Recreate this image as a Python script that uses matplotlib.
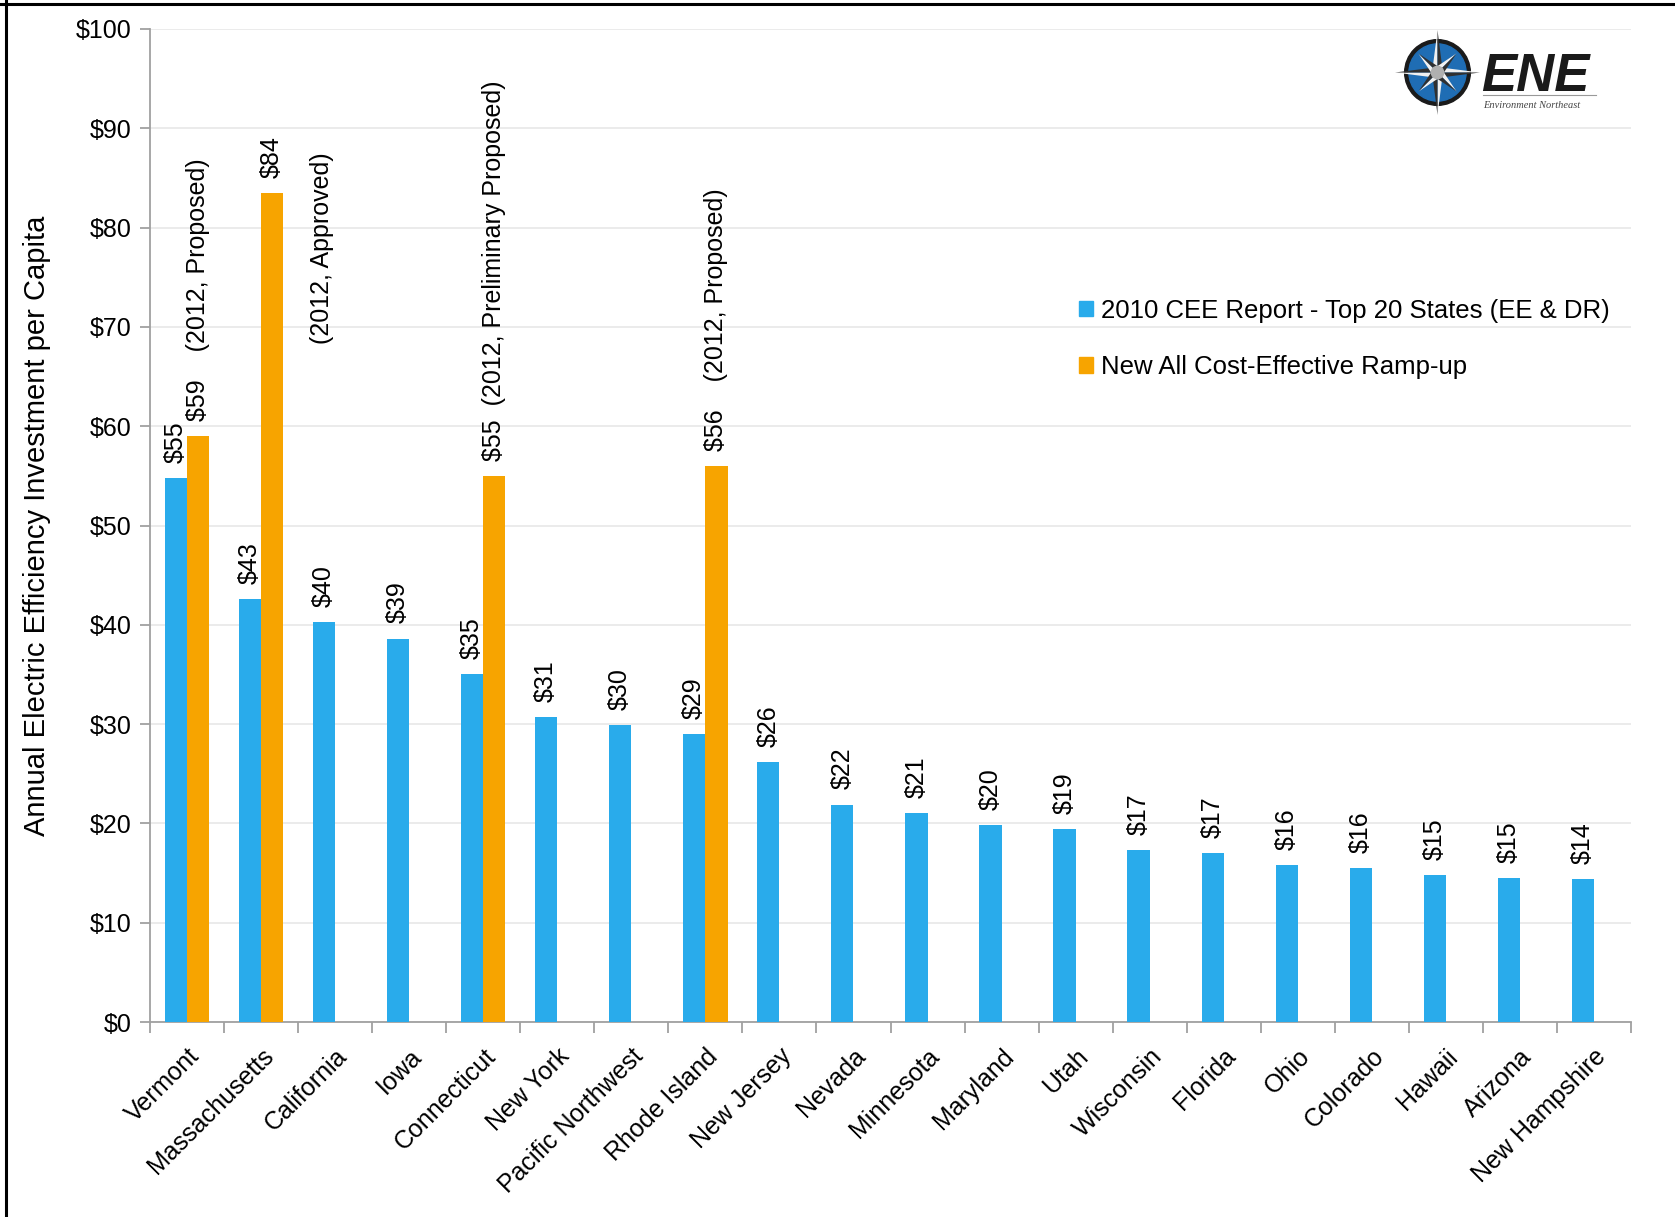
import numpy as np
import matplotlib
matplotlib.use('Agg')
import matplotlib.pyplot as plt
import matplotlib.patches as mpatches
from matplotlib.lines import Line2D

plt.rcParams['font.family'] = ['Liberation Sans', 'DejaVu Sans']

states = ['Vermont', 'Massachusetts', 'California', 'Iowa', 'Connecticut', 'New York',
          'Pacific Northwest', 'Rhode Island', 'New Jersey', 'Nevada', 'Minnesota',
          'Maryland', 'Utah', 'Wisconsin', 'Florida', 'Ohio', 'Colorado', 'Hawaii',
          'Arizona', 'New Hampshire']
cee_2010 = [54.8, 42.6, 40.3, 38.6, 35.0, 30.7, 29.9, 29.0, 26.2, 21.9, 21.0,
            19.8, 19.4, 17.3, 17.0, 15.8, 15.5, 14.8, 14.5, 14.4]
# new ramp-up only exists for a few states
ramp_up = [59, 83.5, None, None, 55, None, None, 56, None, None, None,
           None, None, None, None, None, None, None, None, None]
ramp_notes = ['(2012, Proposed)', None, None, None, '(2012, Preliminary Proposed)', None,
              None, '(2012, Proposed)', None, None, None, None, None, None, None,
              None, None, None, None, None]
california_note = '(2012, Approved)'

legend_labels = ['2010 CEE Report - Top 20 States (EE & DR)', 'New All Cost-Effective Ramp-up']
blue = '#29ABEB'
orange = '#F7A400'
fs = 18


def money(v):
    return f'${int(v + 0.5)}'


fig = plt.figure(figsize=(16.75, 12.17), dpi=100)
ax = fig.add_axes([150/1675, 1-1022/1217, (1631-150)/1675, (1022-29)/1217])

x = np.arange(len(states))
w = 0.3
ax.bar(x - w/2, cee_2010, w, color=blue, zorder=3)
for i, v in enumerate(cee_2010):
    ax.annotate(money(v), (x[i] - w/2, v), xytext=(0, 11), textcoords='offset points',
                rotation=90, ha='center', va='bottom', fontsize=fs)

ramp_x = [x[i] + w/2 for i, v in enumerate(ramp_up) if v is not None]
ramp_v = [v for v in ramp_up if v is not None]
ax.bar(ramp_x, ramp_v, w, color=orange, zorder=3)
for i, v in enumerate(ramp_up):
    if v is None:
        continue
    lab = money(v)
    if ramp_notes[i]:
        gap = '  ' if 'Preliminary' in ramp_notes[i] else '    '
        lab += gap + ramp_notes[i]
    ax.annotate(lab, (x[i] + w/2, v), xytext=(0, 11), textcoords='offset points',
                rotation=90, ha='center', va='bottom', fontsize=fs)

ax.text(x[2] - 0.18, 68.3, california_note, rotation=90, ha='center', va='bottom', fontsize=fs)

ax.set_xlim(-0.5, len(states) - 0.5)
ax.set_ylim(0, 100)
ax.set_yticks(np.arange(0, 101, 10))
ax.set_yticklabels([f'${t}' for t in range(0, 101, 10)], fontsize=fs)
ax.yaxis.grid(True, color='#E8E8E8', linewidth=1.2, zorder=0)
ax.set_axisbelow(True)

ax.set_xticks(x)
ax.set_xticklabels(states, rotation=45, ha='right', va='top', rotation_mode='anchor', fontsize=fs)
ax.set_xticks(np.arange(-0.5, len(states), 1), minor=True)
ax.tick_params(axis='x', which='major', length=0, pad=16)
ax.tick_params(axis='x', which='minor', length=8, color='#A0A0A0', width=1.3)
ax.tick_params(axis='y', length=7, color='#A0A0A0', width=1.3, pad=6)

for s in ['top', 'right']:
    ax.spines[s].set_visible(False)
for s in ['left', 'bottom']:
    ax.spines[s].set_color('#A0A0A0')
    ax.spines[s].set_linewidth(1.3)

ax.set_ylabel('Annual Electric Efficiency Investment per Capita', fontsize=21, labelpad=18)

handles = [mpatches.Patch(color=blue, label=legend_labels[0]),
           mpatches.Patch(color=orange, label=legend_labels[1])]
fig.legend(handles=handles, loc='upper left', bbox_to_anchor=(1066/1675, 1-286/1217),
           frameon=False, fontsize=18.5, handlelength=0.55, handleheight=0.55,
           handletextpad=0.3, labelspacing=1.25, borderpad=0)

# ENE logo
lax = fig.add_axes([1395/1675, 1-115/1217, 85/1675, 85/1217])
lax.set_xlim(-1.1, 1.1)
lax.set_ylim(-1.1, 1.1)
lax.set_aspect('equal')
lax.axis('off')
lax.add_patch(mpatches.Circle((0, 0), 0.85, color='#1A1A1A'))
lax.add_patch(mpatches.Circle((0, 0), 0.74, color='#1F6DB4'))
for ang, ln in [(0, 1.1), (90, 1.1), (180, 1.1), (270, 1.1), (45, 0.7), (135, 0.7), (225, 0.7), (315, 0.7)]:
    a = np.deg2rad(ang)
    tip = (ln*np.cos(a), ln*np.sin(a))
    l1 = (0.14*np.cos(a + np.pi/2), 0.14*np.sin(a + np.pi/2))
    l2 = (0.14*np.cos(a - np.pi/2), 0.14*np.sin(a - np.pi/2))
    lax.add_patch(mpatches.Polygon([l1, tip, (0, 0)], color='#F0F0F0', lw=0))
    lax.add_patch(mpatches.Polygon([l2, tip, (0, 0)], color='#303030', lw=0))
lax.add_patch(mpatches.Circle((0, 0), 0.16, color='#B0B0B0'))
fig.text(1481/1675, 1-91/1217, 'ENE', fontsize=38, fontweight='bold', style='italic',
         color='#1A1A1A', ha='left', va='baseline')
fig.add_artist(Line2D([1483/1675, 1596/1675], [1-95/1217, 1-95/1217], color='#999999', lw=0.8))
fig.text(1483/1675, 1-108/1217, 'Environment Northeast', fontsize=7.5, style='italic',
         family='Liberation Serif', color='#444444', ha='left', va='baseline')

# frame lines on top and left like the source picture
fig.add_artist(Line2D([0, 1], [1-4/1217, 1-4/1217], color='black', lw=2.2))
fig.add_artist(Line2D([6/1675, 6/1675], [0, 1], color='black', lw=2.2))

fig.savefig('out.png', dpi=100)
